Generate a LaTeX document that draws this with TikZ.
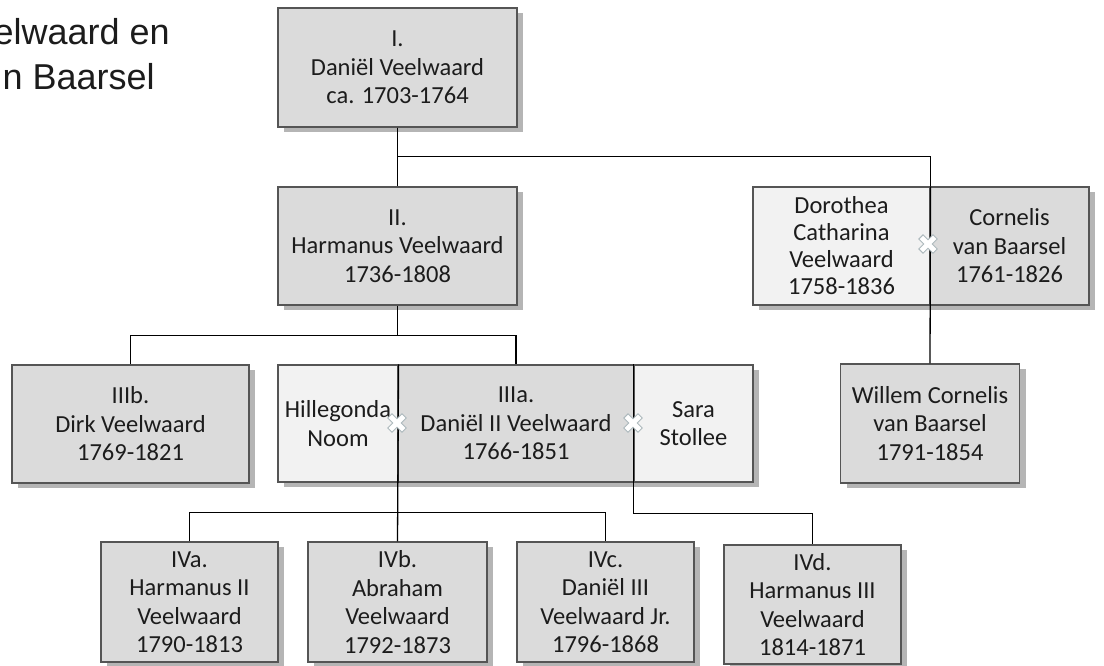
\documentclass[tikz,border=0pt]{standalone}
\usepackage{fontspec}
\setmainfont{Carlito}
\newfontfamily\titlefont{Liberation Sans}
\usetikzlibrary{shadows}
\definecolor{boxfill}{HTML}{DBDBDB}
\definecolor{spousefill}{HTML}{F2F2F2}
\definecolor{boxline}{HTML}{555555}
\definecolor{shadowc}{HTML}{B5B5B5}
\definecolor{txt}{HTML}{1C1C1C}
\definecolor{ringc}{HTML}{ADB9BD}
\tikzset{
  person/.style={draw=boxline, line width=1.1pt, fill=boxfill, inner sep=0pt,
    align=center, text=txt, font=\fontsize{24.5}{28.5}\selectfont,
    general shadow={fill=shadowc, shadow xshift=6pt, shadow yshift=-5pt}},
  spouse/.style={person, fill=spousefill},
  conn/.style={draw=black, line width=1.3pt},
  title/.style={font=\titlefont\fontsize{36}{40}\selectfont, text=txt, inner sep=0pt},
  ring/.pic={\draw[draw=ringc, fill=white, line width=0.9pt, rotate=45]
    (-3,-10) -- (3,-10) -- (3,-3) -- (10,-3) -- (10,3) -- (3,3) -- (3,10)
    -- (-3,10) -- (-3,3) -- (-10,3) -- (-10,-3) -- (-3,-3) -- cycle;}
}
\begin{document}
\begin{tikzpicture}[x=1pt,y=-1pt]
\useasboundingbox (0,0) rectangle (1104,666);
\fill[white] (0,0) rectangle (1104,666);

% title (clipped at the left edge, as in the reference)
\node[title, anchor=base east] (t1) at (170,45) {elwaard en};
\node[title, anchor=base east] (t2) at (155,90) {n Baarsel};

% generation I, II
\node[person, minimum width=239pt, minimum height=119pt] (I) at (397.5,67.5) {I.\\Daniël Veelwaard\\ca. 1703-1764};
\node[person, minimum width=239pt, minimum height=118pt] (II) at (397.5,246) {II.\\Harmanus Veelwaard\\1736-1808};

% couple Dorothea / Cornelis
\node[spouse, minimum width=177pt, minimum height=118pt, font=\fontsize{24.5}{27}\selectfont] (dor) at (841.5,246) {Dorothea\\Catharina\\Veelwaard\\1758-1836};
\node[person, minimum width=159pt, minimum height=118pt] (cor) at (1009.5,246) {Cornelis\\van Baarsel\\1761-1826};

% generation III
\node[person, minimum width=237pt, minimum height=118pt] (IIIb) at (130.5,424) {IIIb.\\Dirk Veelwaard\\1769-1821};
\node[spouse, minimum width=120pt, minimum height=117pt] (hil) at (338,423.5) {Hillegonda\\Noom};
\node[person, minimum width=236pt, minimum height=117pt] (IIIa) at (516,423.5) {IIIa.\\Daniël II Veelwaard\\1766-1851};
\node[spouse, minimum width=119pt, minimum height=117pt] (sara) at (693.5,423.5) {Sara\\Stollee};
\node[person, minimum width=179pt, minimum height=119pt] (wil) at (930,423.5) {Willem Cornelis\\van Baarsel\\1791-1854};

% generation IV
\node[person, minimum width=177pt, minimum height=120pt] (IVa) at (189.5,602) {IVa.\\Harmanus II\\Veelwaard\\1790-1813};
\node[person, minimum width=179pt, minimum height=120pt] (IVb) at (397.5,602) {IVb.\\Abraham\\Veelwaard\\1792-1873};
\node[person, minimum width=177pt, minimum height=120pt] (IVc) at (605.5,602) {IVc.\\Daniël III\\Veelwaard Jr.\\1796-1868};
\node[person, minimum width=177pt, minimum height=119pt] (IVd) at (812.5,604.5) {IVd.\\Harmanus III\\Veelwaard\\1814-1871};

% connectors
\draw[conn] (I.south) -- (II.north);
\draw[conn] (I.south) -- ++(0,29) coordinate (j0) -| (dor.north east);
\draw[conn] (dor.north east) -- (wil.north);
\draw[conn] (II.south) -- ++(0,30) coordinate (j2);
\draw[conn] (IIIb.north) |- (j2) -| (IIIa.north);
\draw[conn] (hil.north east) -- (IVb.north);
\path (hil.south east) ++(0,30) coordinate (j3);
\draw[conn] (IVa.north) |- (j3) -| (IVc.north);
\draw[conn] (sara.north west) -- (sara.south west) -- ++(0,31) -| (IVd.north);

% marriage symbols
\pic at (397,423) {ring};
\pic at (633,423) {ring};
\pic at (928,244) {ring};
\end{tikzpicture}
\end{document}
